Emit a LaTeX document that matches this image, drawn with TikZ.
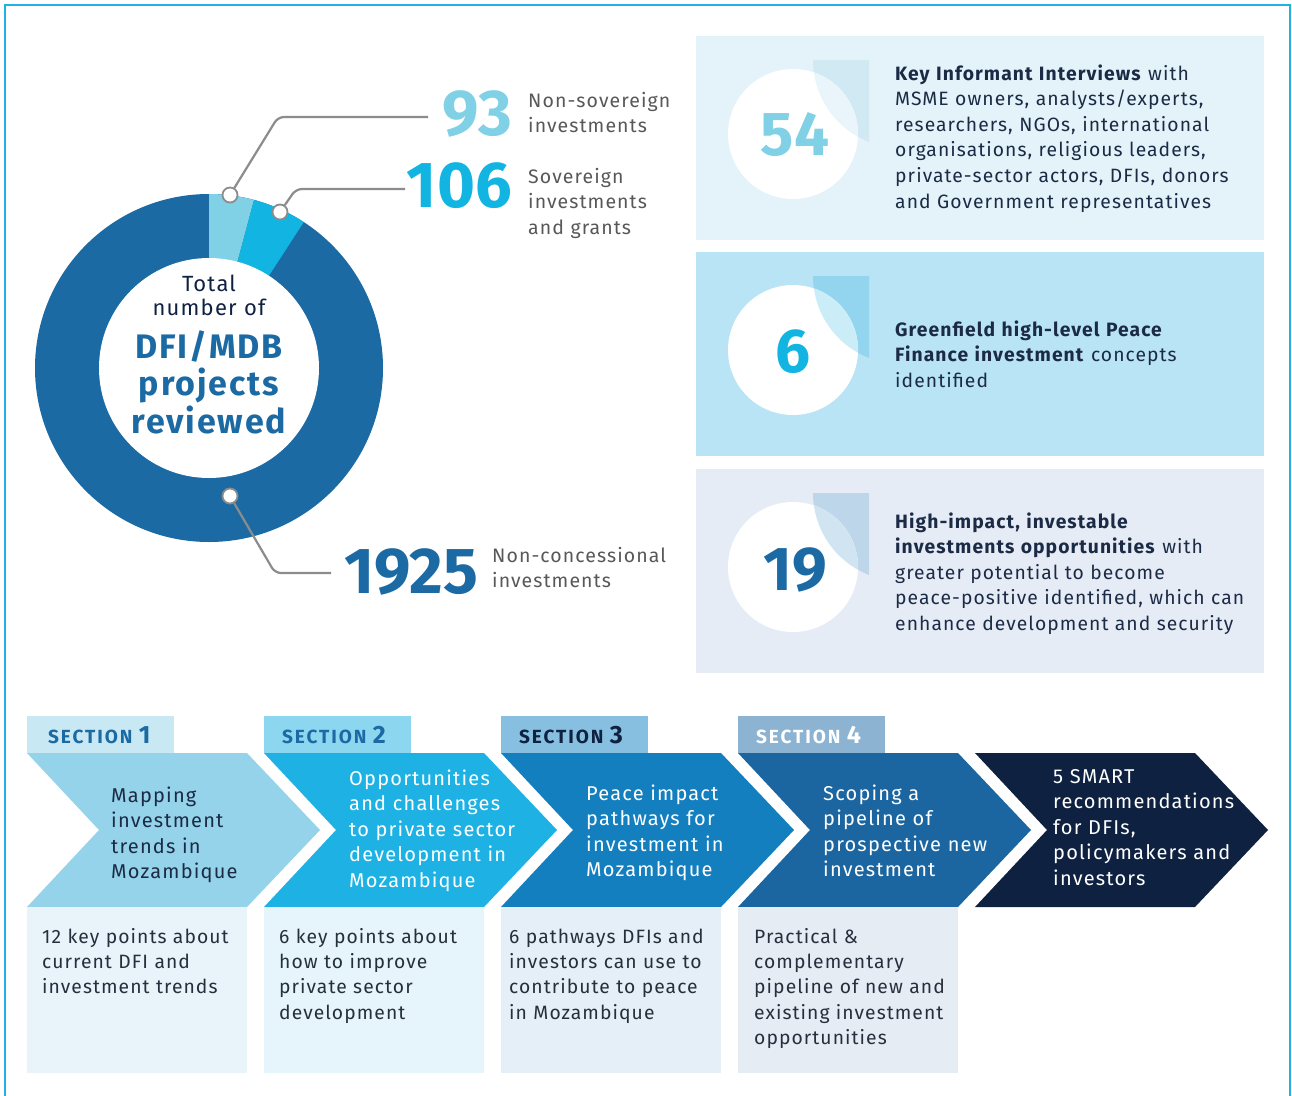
\documentclass[tikz,border=0pt]{standalone}
\usepackage{fontspec}
\setmainfont{Fira Sans}[LetterSpace=5.5]
\newfontfamily\numfont{Fira Sans}
\newfontfamily\chfont{Fira Sans}[LetterSpace=6]
\newfontfamily\tabfont{Fira Sans}[LetterSpace=10]
\newcommand\myfs[2]{\fontsize{#1}{#2}\selectfont}
\definecolor{framec}{HTML}{1EB3E5}
\definecolor{dblue}{HTML}{1B6AA3}
\definecolor{cyanb}{HTML}{12B5E2}
\definecolor{lblue}{HTML}{80D0E6}
\definecolor{navy}{HTML}{0F2140}
\definecolor{txt}{HTML}{1C2B45}
\definecolor{btxt}{HTML}{26303D}
\definecolor{gtxt}{HTML}{585858}
\definecolor{leadc}{HTML}{8C8C8C}
\definecolor{boxa}{HTML}{E3F3F9}
\definecolor{boxas}{HTML}{D1E9F3}
\definecolor{boxao}{HTML}{E9F5FA}
\definecolor{boxb}{HTML}{B8E4F5}
\definecolor{boxbs}{HTML}{93D4EE}
\definecolor{boxbo}{HTML}{CBEDF8}
\definecolor{boxc}{HTML}{E6ECF6}
\definecolor{boxcs}{HTML}{BDD6E9}
\definecolor{boxco}{HTML}{D1E4F1}
\definecolor{chA}{HTML}{94D3EA}
\definecolor{chB}{HTML}{1EB2E4}
\definecolor{chC}{HTML}{137FBF}
\definecolor{chD}{HTML}{1B65A0}
\definecolor{chE}{HTML}{0F2140}
\definecolor{tabA}{HTML}{C8E8F4}
\definecolor{tabB}{HTML}{8DD6F0}
\definecolor{tabC}{HTML}{86BFDF}
\definecolor{tabD}{HTML}{8DB3D3}
\definecolor{bbA}{HTML}{E8F4FA}
\definecolor{bbB}{HTML}{E6F5FB}
\definecolor{bbC}{HTML}{E5EFF7}
\definecolor{bbD}{HTML}{E6ECF4}
\begin{document}
\begin{tikzpicture}[x=1pt,y=-1pt,
  body/.style={inner sep=0pt, anchor=base west, align=left, text width=#1, font=\myfs{19.3}{25.6}},
  body/.default=400,
  bignum/.style={inner sep=0pt, anchor=base east, font=\numfont\myfs{65}{65}\bfseries},
  circnum/.style={inner sep=0pt, anchor=base, font=\numfont\myfs{62}{62}\bfseries},
  lbl/.style={inner sep=0pt, anchor=base west, align=left, text width=220, text=gtxt, font=\myfs{19.5}{25.7}},
  leader/.style={draw=leadc, line width=2.2, rounded corners=6},
  dot/.style={circle, draw=leadc, fill=white, line width=1.8, minimum size=15, inner sep=0pt},
  tabtxt/.style={inner sep=0pt, anchor=base west, font=\tabfont\myfs{19}{19}\bfseries},
  chtxt/.style={inner sep=0pt, anchor=base west, align=left, text width=260, font=\chfont\myfs{20}{25.5}},
  bbtxt/.style={inner sep=0pt, anchor=base west, align=left, text width=230, text=btxt, font=\myfs{19.3}{25.4}},
]
\useasboundingbox (0,0) rectangle (1292,1095);
\fill[white] (0,0) rectangle (1292,1095);
% frame
\draw[framec, line width=2.6] (5,1096) -- (5,5) -- (1290,5) -- (1290,1096);

% ---------------- donut
\coordinate (dc) at (209,368);
\fill[dblue] (dc) circle (174);
\fill[lblue] (dc) -- ++(-90:174) arc[start angle=-90, end angle=-75, radius=174] -- cycle;
\fill[cyanb] (dc) -- ++(-75:174) arc[start angle=-75, end angle=-57, radius=174] -- cycle;
\fill[white] (dc) circle (110);

\node[inner sep=0pt, anchor=base, align=center, text width=200, text=navy, font=\myfs{22}{24}] (tot) at (209,291) {Total\\number of};
\node[inner sep=0pt, anchor=base, align=center, text width=220, text=dblue, font=\myfs{34}{37.5}\bfseries] (dfi) at (209,358) {DFI/MDB\\projects\\reviewed};

% leaders
\coordinate (k93) at (278,117);
\coordinate (e93) at (428,117);
\coordinate (k106) at (296,189);
\coordinate (e106) at (405,189);
\coordinate (k1925) at (275,573);
\coordinate (e1925) at (331,573);
\node[dot] (d93) at (230,195) {};
\node[dot] (d106) at (280,212) {};
\node[dot] (d1925) at (230,496) {};
\draw[leader] (d93) -- (k93) -- (e93);
\draw[leader] (d106) -- (k106) -- (e106);
\draw[leader] (d1925) -- (k1925) -- (e1925);

\node[bignum, text=lblue] (n93) at (512,135) {93};
\node[bignum, text=cyanb] (n106) at (512,207) {106};
\node[bignum, text=dblue] (n1925) at (478,593) {1925};
\node[lbl] (l93) at (528,107) {Non-sovereign\\investments};
\node[lbl] (l106) at (528,183) {Sovereign\\investments\\and grants};
\node[lbl] (l1925) at (492,562) {Non-concessional\\investments};

% ---------------- right boxes
\foreach \top/\bg/\sh/\ov in {36/boxa/boxas/boxao, 252/boxb/boxbs/boxbo, 469/boxc/boxcs/boxco}{
  \fill[\bg] (696,\top) rectangle (1264,\top+204);
  \pgfmathsetmacro\cy{\top+98}
  \pgfmathsetmacro\st{\top+24}
  \fill[\sh] (869,\st) -- (813,\st) arc[start angle=180, end angle=111.3, radius=88] -- cycle;
  \fill[white] (793,\cy) circle (65);
  \begin{scope}
    \clip (793,\cy) circle (65);
    \fill[\ov] (869,\st) -- (813,\st) arc[start angle=180, end angle=111.3, radius=88] -- cycle;
  \end{scope}
}
\node[circnum, text=lblue] (c54) at (795,155) {54};
\node[circnum, text=cyanb] (c6) at (793,372) {6};
\node[circnum, text=dblue] (c19) at (795,590) {19};

\node[body, text=txt] (t54) at (895,80) {\textbf{Key Informant Interviews} with\\MSME owners, analysts/experts,\\researchers, NGOs, international\\organisations, religious leaders,\\private-sector actors, DFIs, donors\\and Government representatives};
\node[body, text=txt] (t6) at (895,336) {\textbf{Greenfield high-level Peace}\\\textbf{Finance investment} concepts\\identified};
\node[body, text=txt] (t19) at (895,528) {\textbf{High-impact, investable}\\\textbf{investments opportunities} with\\greater potential to become\\peace-positive identified, which can\\enhance development and security};

% ---------------- sections
\foreach \i/\ch/\tb in {0/chA/tabA, 1/chB/tabB, 2/chC/tabC, 3/chD/tabD}{
  \pgfmathsetmacro\L{27+237*\i}
  \fill[\tb] (\L,716) rectangle (\L+147,753);
}
\foreach \i/\ch in {0/chA, 1/chB, 2/chC, 3/chD, 4/chE}{
  \pgfmathsetmacro\L{27+237*\i}
  \fill[\ch] (\L,753) -- (\L+220,753) -- (\L+293,830) -- (\L+220,907) -- (\L,907) -- (\L+72,830) -- cycle;
}
\foreach \i/\bb in {0/bbA, 1/bbB, 2/bbC, 3/bbD}{
  \pgfmathsetmacro\L{27+237*\i}
  \fill[\bb] (\L,907) rectangle (\L+220,1073);
}

\node[tabtxt, text=dblue] (s1) at (48,743) {SECTION {\myfs{25}{25}1}};
\node[tabtxt, text=dblue] (s2) at (282,743) {SECTION {\myfs{25}{25}2}};
\node[tabtxt, text=navy] (s3) at (519,743) {SECTION {\myfs{25}{25}3}};
\node[tabtxt, text=white] (s4) at (756,743) {SECTION {\myfs{25}{25}4}};

\node[chtxt, text=txt] (h1) at (111,802) {Mapping\\investment\\trends in\\Mozambique};
\node[chtxt, text=white] (h2) at (349,785) {Opportunities\\and challenges\\to private sector\\development in\\Mozambique};
\node[chtxt, text=white] (h3) at (586,800) {Peace impact\\pathways for\\investment in\\Mozambique};
\node[chtxt, text=white] (h4) at (823,800) {Scoping a\\pipeline of\\prospective new\\investment};
\node[chtxt, text=white] (h5) at (1053,783) {5 SMART\\recommendations\\for DFIs,\\policymakers and\\investors};

\node[bbtxt] (b1) at (42,943) {12 key points about\\current DFI and\\investment trends};
\node[bbtxt] (b2) at (279,943) {6 key points about\\how to improve\\private sector\\development};
\node[bbtxt] (b3) at (509,943) {6 pathways DFIs and\\investors can use to\\contribute to peace\\in Mozambique};
\node[bbtxt] (b4) at (754,943) {Practical \&\\complementary\\pipeline of new and\\existing investment\\opportunities};
\end{tikzpicture}
\end{document}
